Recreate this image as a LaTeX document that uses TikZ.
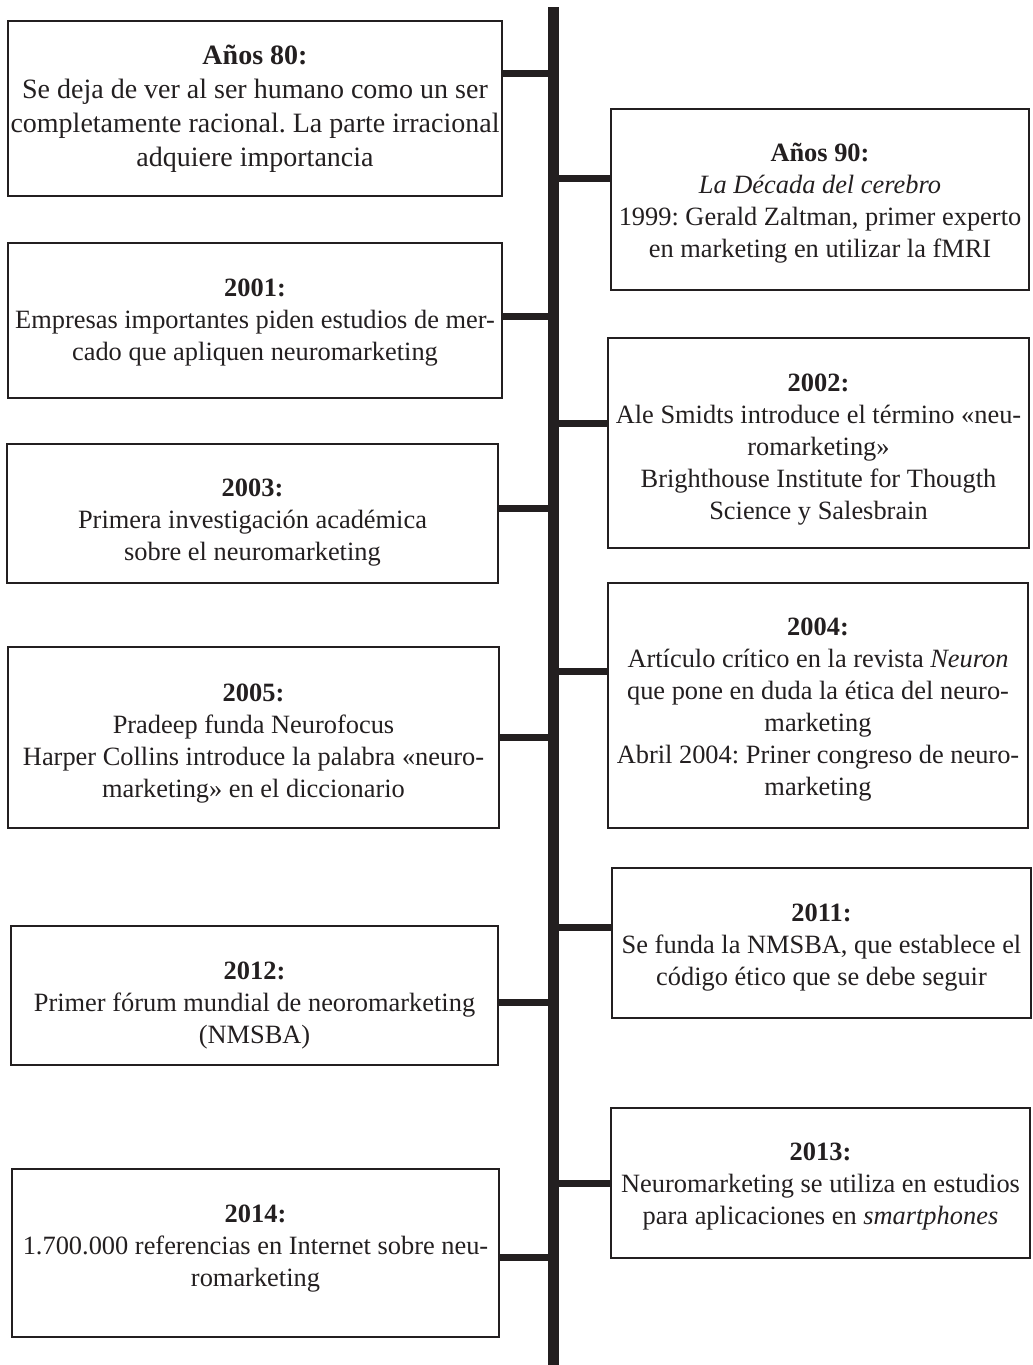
\documentclass[tikz,border=0pt]{standalone}
\usepackage{fontspec}
\setmainfont{Liberation Serif}
\definecolor{ink}{HTML}{231F20}
\begin{document}
\frenchspacing
\begin{tikzpicture}[x=1pt,y=-1pt,
  evbox/.style={draw=ink, line width=2.4pt, inner sep=0pt},
  evtext/.style={text=ink, align=center, inner sep=0pt, font=\fontsize{26.4}{32}\selectfont},
  spine/.style={draw=ink, line width=10.5pt},
  link/.style={draw=ink, line width=7pt}]
\useasboundingbox (0,0) rectangle (1033,1365);
\coordinate (top) at (553.5,7);
\coordinate (bot) at (553.5,1365);
\draw[spine] (top) -- (bot);

% left boxes
\node[evbox, minimum width=494pt, minimum height=175pt] (a80) at (255,108.5) {};
\node[evbox, minimum width=494pt, minimum height=155pt] (y01) at (255,320.5) {};
\node[evbox, minimum width=491pt, minimum height=139pt] (y03) at (252.5,513.5) {};
\node[evbox, minimum width=491pt, minimum height=181pt] (y05) at (253.5,737.5) {};
\node[evbox, minimum width=487pt, minimum height=139pt] (y12) at (254.5,995.5) {};
\node[evbox, minimum width=487pt, minimum height=168pt] (y14) at (255.5,1253) {};
% right boxes
\node[evbox, minimum width=418pt, minimum height=181pt] (a90) at (820,199.5) {};
\node[evbox, minimum width=421pt, minimum height=210pt] (y02) at (818.5,443) {};
\node[evbox, minimum width=420pt, minimum height=245pt] (y04) at (818,705.5) {};
\node[evbox, minimum width=419pt, minimum height=150pt] (y11) at (821.5,943) {};
\node[evbox, minimum width=419pt, minimum height=150pt] (y13) at (820.5,1183) {};

% texts
\node[evtext, font=\fontsize{28}{34}\selectfont] (a80t) at (a80) {\textbf{Años 80:}\\Se deja de ver al ser humano como un ser\\completamente racional. La parte irracional\\adquiere importancia};
\node[evtext, yshift=-2pt] (y01t) at (y01) {\textbf{2001:}\\Empresas importantes piden estudios de mer-\\cado que apliquen neuromarketing};
\node[evtext, yshift=-9pt] (y03t) at (y03) {\textbf{2003:}\\Primera investigación académica\\sobre el neuromarketing};
\node[evtext, yshift=-6pt] (y05t) at (y05) {\textbf{2005:}\\Pradeep funda Neurofocus\\Harper Collins introduce la palabra «neuro-\\marketing» en el diccionario};
\node[evtext, yshift=-10pt] (y12t) at (y12) {\textbf{2012:}\\Primer fórum mundial de neoromarketing\\(NMSBA)};
\node[evtext, yshift=4pt] (y14t) at (y14) {\textbf{2014:}\\1.700.000 referencias en Internet sobre neu-\\romarketing};
\node[evtext, yshift=-4pt] (a90t) at (a90) {\textbf{Años 90:}\\\textit{La Década del cerebro}\\1999: Gerald Zaltman, primer experto\\en marketing en utilizar la fMRI};
\node[evtext, yshift=-7pt] (y02t) at (y02) {\textbf{2002:}\\Ale Smidts introduce el término «neu-\\romarketing»\\Brighthouse Institute for Thougth\\Science y Salesbrain};
\node[evtext, yshift=-4pt] (y04t) at (y04) {\textbf{2004:}\\Artículo crítico en la revista \textit{Neuron}\\que pone en duda la ética del neuro-\\marketing\\Abril 2004: Priner congreso de neuro-\\marketing};
\node[evtext, yshift=-5pt] (y11t) at (y11) {\textbf{2011:}\\Se funda la NMSBA, que establece el\\código ético que se debe seguir};
\node[evtext, yshift=-4pt] (y13t) at (y13) {\textbf{2013:}\\Neuromarketing se utiliza en estudios\\para aplicaciones en \textit{smartphones}};

% junctions on the spine
\coordinate (j80) at (553.5,73);
\coordinate (j90) at (553.5,178);
\coordinate (j01) at (553.5,316);
\coordinate (j02) at (553.5,423);
\coordinate (j03) at (553.5,508);
\coordinate (j04) at (553.5,671);
\coordinate (j05) at (553.5,737);
\coordinate (j11) at (553.5,927);
\coordinate (j12) at (553.5,1002);
\coordinate (j13) at (553.5,1183);
\coordinate (j14) at (553.5,1257);

\draw[link] (a80.east |- j80) -- (j80);
\draw[link] (y01.east |- j01) -- (j01);
\draw[link] (y03.east |- j03) -- (j03);
\draw[link] (y05.east |- j05) -- (j05);
\draw[link] (y12.east |- j12) -- (j12);
\draw[link] (y14.east |- j14) -- (j14);
\draw[link] (j90) -- (a90.west |- j90);
\draw[link] (j02) -- (y02.west |- j02);
\draw[link] (j04) -- (y04.west |- j04);
\draw[link] (j11) -- (y11.west |- j11);
\draw[link] (j13) -- (y13.west |- j13);
\end{tikzpicture}
\end{document}
